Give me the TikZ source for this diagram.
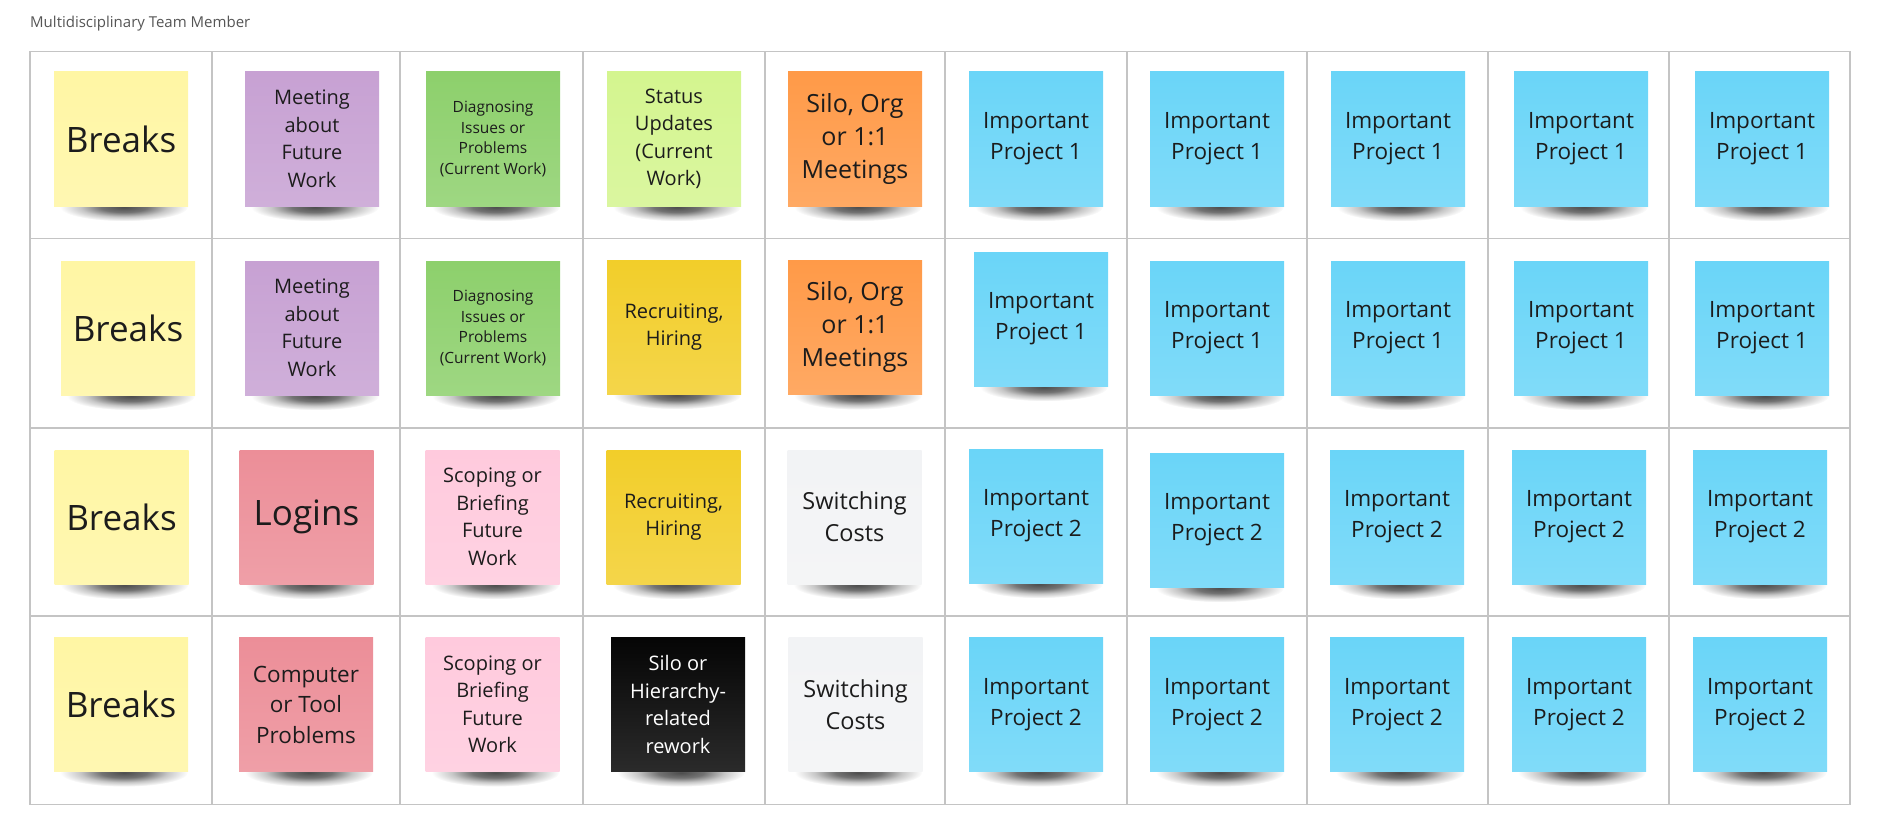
\documentclass[tikz,border=0pt]{standalone}
\usepackage{fontspec}
\setmainfont{Open Sans}
\usetikzlibrary{backgrounds}

\definecolor{gridgray}{HTML}{C4C4C4}
\definecolor{titlegray}{HTML}{555555}
\definecolor{notetext}{HTML}{1C1C1C}
\definecolor{breaksyellow}{HTML}{FFF6A4}
\definecolor{meetpurple}{HTML}{C7A1D3}
\definecolor{diaggreen}{HTML}{8DD06C}
\definecolor{statusgreen}{HTML}{D4F58F}
\definecolor{siloorange}{HTML}{FF9A48}
\definecolor{projblue}{HTML}{6AD5F8}
\definecolor{recruityellow}{HTML}{F2CE2A}
\definecolor{loginred}{HTML}{EC8E98}
\definecolor{scopepink}{HTML}{FFCADD}
\definecolor{switchgray}{HTML}{F2F3F5}
\definecolor{reworkblack}{HTML}{050505}

\pgfdeclareradialshading{stickyshadow}{\pgfpoint{0bp}{0bp}}{%
  color(0bp)=(black!70); color(9bp)=(black!55); color(17bp)=(black!22); color(25bp)=(white); color(50bp)=(white)}

\tikzset{
  cell/.style={draw=gridgray, line width=1.6},
  sticky/.style={minimum width=134, minimum height=134, inner sep=0pt, align=center,
    text=notetext, top color=#1, bottom color=#1!85!white},
  bigtxt/.style={font=\fontsize{35}{42}\selectfont},
  orgtxt/.style={font=\fontsize{25}{33}\selectfont},
  projtxt/.style={font=\fontsize{22.5}{31}\selectfont},
  switchtxt/.style={font=\fontsize{23.5}{32}\selectfont},
  comptxt/.style={font=\fontsize{22.5}{30.5}\selectfont},
  plaintxt/.style={font=\fontsize{20}{27.5}\selectfont},
  smalltxt/.style={font=\fontsize{15.5}{20.5}\selectfont},
}

\begin{document}
\begin{tikzpicture}[x=1pt, y=-1pt]
    \useasboundingbox (0,0) rectangle (1880,832);

    \node[anchor=west, inner sep=0pt, text=titlegray, font=\fontsize{15}{18}\selectfont]
        (title) at (30,24) {Multidisciplinary Team Member};

    % Grid
    \draw[cell] (30,51.6) rectangle (1850,804.5);
    \foreach \x in {212,400,583,765,945,1127,1307,1488,1669}
        \draw[cell] (\x,51.6) -- (\x,804.5);
    \foreach \y in {238.6,428,616}
        \draw[cell] (30,\y) -- (1850,\y);

    % Row 1
    \node[sticky=breaksyellow, bigtxt] (breaks1) at (121,139) {Breaks};
    \node[sticky=meetpurple, plaintxt] (meeting1) at (312,139) {Meeting\\about\\Future\\Work};
    \node[sticky=diaggreen, smalltxt] (diag1) at (493,139) {Diagnosing\\Issues or\\Problems\\(Current Work)};
    \node[sticky=statusgreen, plaintxt] (status) at (674,139) {Status\\Updates\\(Current\\Work)};
    \node[sticky=siloorange, orgtxt] (silo1) at (855,139) {Silo, Org\\or 1:1\\Meetings};
    \node[sticky=projblue, projtxt] (imp-1-6) at (1036,139) {Important\\Project 1};
    \node[sticky=projblue, projtxt] (imp-1-7) at (1217,139) {Important\\Project 1};
    \node[sticky=projblue, projtxt] (imp-1-8) at (1398,139) {Important\\Project 1};
    \node[sticky=projblue, projtxt] (imp-1-9) at (1581,139) {Important\\Project 1};
    \node[sticky=projblue, projtxt] (imp-1-10) at (1762,139) {Important\\Project 1};

    % Row 2
    \node[sticky=breaksyellow, bigtxt] (breaks2) at (128,328) {Breaks};
    \node[sticky=meetpurple, plaintxt] (meeting2) at (312,328) {Meeting\\about\\Future\\Work};
    \node[sticky=diaggreen, smalltxt] (diag2) at (493,328) {Diagnosing\\Issues or\\Problems\\(Current Work)};
    \node[sticky=recruityellow, plaintxt] (recruit1) at (674,327) {Recruiting,\\Hiring};
    \node[sticky=siloorange, orgtxt] (silo2) at (855,327.5) {Silo, Org\\or 1:1\\Meetings};
    \node[sticky=projblue, projtxt] (imp-2-6) at (1041,319) {Important\\Project 1};
    \node[sticky=projblue, projtxt] (imp-2-7) at (1217,328) {Important\\Project 1};
    \node[sticky=projblue, projtxt] (imp-2-8) at (1398,328) {Important\\Project 1};
    \node[sticky=projblue, projtxt] (imp-2-9) at (1581,328) {Important\\Project 1};
    \node[sticky=projblue, projtxt] (imp-2-10) at (1762,328) {Important\\Project 1};

    % Row 3
    \node[sticky=breaksyellow, bigtxt] (breaks3) at (121.5,517) {Breaks};
    \node[sticky=loginred, bigtxt] (logins) at (306.5,517) {Logins};
    \node[sticky=scopepink, plaintxt] (scoping1) at (492.5,517) {Scoping or\\Briefing\\Future\\Work};
    \node[sticky=recruityellow, plaintxt] (recruit2) at (673.5,517) {Recruiting,\\Hiring};
    \node[sticky=switchgray, switchtxt] (switch1) at (854.5,517) {Switching\\Costs};
    \node[sticky=projblue, projtxt] (imp-3-6) at (1036,516) {Important\\Project 2};
    \node[sticky=projblue, projtxt] (imp-3-7) at (1217,520) {Important\\Project 2};
    \node[sticky=projblue, projtxt] (imp-3-8) at (1397,517) {Important\\Project 2};
    \node[sticky=projblue, projtxt] (imp-3-9) at (1579,517) {Important\\Project 2};
    \node[sticky=projblue, projtxt] (imp-3-10) at (1760,517) {Important\\Project 2};

    % Row 4
    \node[sticky=breaksyellow, bigtxt] (breaks4) at (121,704.5) {Breaks};
    \node[sticky=loginred, comptxt] (tools) at (306,704.5) {Computer\\or Tool\\Problems};
    \node[sticky=scopepink, plaintxt] (scoping2) at (492.5,704.5) {Scoping or\\Briefing\\Future\\Work};
    \node[sticky=reworkblack, plaintxt, text=white] (rework) at (678,704.5) {Silo or\\Hierarchy-\\related\\rework};
    \node[sticky=switchgray, switchtxt] (switch2) at (855.5,704.5) {Switching\\Costs};
    \node[sticky=projblue, projtxt] (imp-4-6) at (1036,704.5) {Important\\Project 2};
    \node[sticky=projblue, projtxt] (imp-4-7) at (1217,704.5) {Important\\Project 2};
    \node[sticky=projblue, projtxt] (imp-4-8) at (1397,704.5) {Important\\Project 2};
    \node[sticky=projblue, projtxt] (imp-4-9) at (1579,704.5) {Important\\Project 2};
    \node[sticky=projblue, projtxt] (imp-4-10) at (1760,704.5) {Important\\Project 2};

    % Shadows under the notes
    \begin{scope}[on background layer]
        \foreach \n in {breaks1,meeting1,diag1,status,silo1,imp-1-6,imp-1-7,imp-1-8,imp-1-9,imp-1-10,
                        breaks2,meeting2,diag2,recruit1,silo2,imp-2-6,imp-2-7,imp-2-8,imp-2-9,imp-2-10,
                        breaks3,logins,scoping1,recruit2,switch1,imp-3-6,imp-3-7,imp-3-8,imp-3-9,imp-3-10,
                        breaks4,tools,scoping2,rework,switch2,imp-4-6,imp-4-7,imp-4-8,imp-4-9,imp-4-10}
            \shade[shading=stickyshadow] ([xshift=3,yshift=-1]\n.south) ellipse (64 and 14);
    \end{scope}
\end{tikzpicture}
\end{document}
